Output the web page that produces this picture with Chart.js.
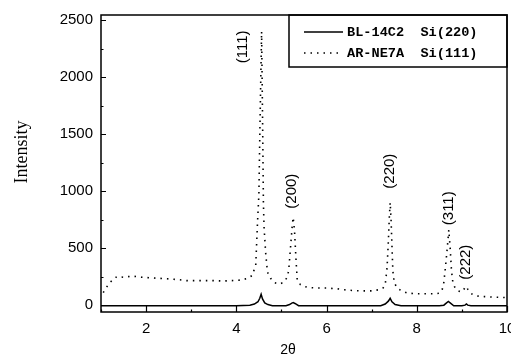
<!DOCTYPE html>
<html>
<head>
<meta charset="UTF-8">
<title>XRD 2θ scan</title>
<style>
  html, body { margin: 0; padding: 0; background: #fff; }
  #wrap { width: 511px; height: 358px; }
</style>
<script src="https://cdn.jsdelivr.net/npm/chart.js"></script>
</head>
<body>
<div id="wrap"><canvas id="xrd" width="511" height="358"></canvas></div>
<script>
// AR-NE7A Si(111) - dotted trace
const arX = [1.05, 1.1, 1.2, 1.35, 1.5, 1.7, 1.9, 2.1, 2.3, 2.5, 2.7, 2.9, 3.1, 3.3, 3.5, 3.7, 3.9, 4.1, 4.25, 4.35,
             4.43, 4.47, 4.5, 4.525, 4.56, 4.585, 4.6, 4.615, 4.65, 4.69, 4.76, 4.83, 4.95, 5.05, 5.12, 5.16, 5.2, 5.24, 5.26, 5.29,
             5.32, 5.35, 5.42, 5.5, 5.6, 5.8, 6.0, 6.2, 6.4, 6.6, 6.8, 7.0, 7.15, 7.25, 7.3, 7.34, 7.37, 7.39, 7.41, 7.43,
             7.45, 7.47, 7.5, 7.55, 7.6, 7.7, 7.8, 8.0, 8.2, 8.4, 8.5, 8.56, 8.6, 8.64, 8.68, 8.71, 8.74, 8.77, 8.8, 8.85,
             8.92, 8.98, 9.03, 9.07, 9.1, 9.13, 9.18, 9.25, 9.35, 9.5, 9.7, 9.9, 10.0];
const arY = [110, 145, 200, 250, 245, 255, 245, 240, 235, 230, 225, 215, 215, 215, 215, 212, 215, 220, 235, 260,
             350, 730, 970, 1600, 2400, 1500, 900, 680, 460, 290, 235, 200, 185, 200, 240, 300, 500, 700, 770, 650,
             420, 220, 180, 165, 155, 150, 150, 145, 135, 128, 125, 125, 135, 150, 180, 320, 560, 760, 900, 750,
             520, 300, 200, 160, 140, 120, 105, 100, 100, 100, 105, 130, 200, 350, 520, 660, 500, 300, 200, 150,
             125, 115, 130, 155, 165, 140, 110, 90, 80, 75, 70, 68, 65];

// BL-14C2 Si(220) - solid trace
const blX = [1.0, 2.0, 3.0, 4.0, 4.3, 4.4, 4.48, 4.52, 4.55, 4.58, 4.63, 4.7, 4.8, 5.1, 5.18, 5.23, 5.26, 5.3, 5.38, 6.0,
             7.2, 7.3, 7.37, 7.41, 7.45, 7.52, 7.65, 8.5, 8.6, 8.66, 8.7, 8.74, 8.82, 9.0, 9.07, 9.1, 9.13, 9.2, 10.0];
const blY = [-5, -5, -5, -5, 0, 10, 30, 60, 95, 55, 20, 5, -5, -5, 5, 18, 22, 15, -5, -5,
             -5, 10, 35, 60, 30, 5, -5, -5, 0, 20, 32, 20, -5, -5, 0, 10, 0, -5, -5];

const seriesNames = ['BL-14C2  Si(220)', 'AR-NE7A  Si(111)'];
const xTicks = [2, 4, 6, 8, 10];
const yTicks = [0, 500, 1000, 1500, 2000, 2500];
const peakNames = ['(111)', '(200)', '(220)', '(311)', '(222)'];

function toPoints(xs, ys) {
  return xs.map((x, i) => ({ x: x, y: ys[i] }));
}

// where the reflection labels sit (data units)
const peakLabelPos = [
  { x: 4.14, y: 2265 },
  { x: 5.22, y: 1000 },
  { x: 7.41, y: 1175 },
  { x: 8.71, y: 850 },
  { x: 9.09, y: 377 }
];

const framePlugin = {
  id: 'frame',
  afterDraw(chart) {
    const ctx = chart.ctx;
    const ca = chart.chartArea;
    const xs = chart.scales.x;
    const ys = chart.scales.y;
    ctx.save();
    ctx.strokeStyle = '#000';
    ctx.fillStyle = '#000';

    // axis box
    ctx.lineWidth = 1.5;
    ctx.strokeRect(ca.left, ca.top, ca.right - ca.left, ca.bottom - ca.top);

    // inward ticks
    ctx.lineWidth = 1.2;
    ctx.beginPath();
    for (let v = 1; v <= 10; v++) {
      const px = Math.round(xs.getPixelForValue(v)) + 0.5;
      const len = v % 2 === 0 ? 6 : 2.5;
      ctx.moveTo(px, ca.bottom);
      ctx.lineTo(px, ca.bottom - len);
    }
    for (let v = 0; v <= 2500; v += 250) {
      const py = Math.round(ys.getPixelForValue(v)) + 0.5;
      const len = v % 500 === 0 ? 5 : 2.5;
      ctx.moveTo(ca.left, py);
      ctx.lineTo(ca.left + len, py);
    }
    ctx.stroke();

    // reflection labels, rotated
    ctx.font = '15px "Liberation Sans"';
    ctx.textAlign = 'center';
    ctx.textBaseline = 'middle';
    peakNames.forEach((name, i) => {
      const px = xs.getPixelForValue(peakLabelPos[i].x);
      const py = ys.getPixelForValue(peakLabelPos[i].y);
      ctx.save();
      ctx.translate(px, py);
      ctx.rotate(-Math.PI / 2);
      ctx.fillText(name, 0, 0);
      ctx.restore();
    });

    // axis titles
    ctx.save();
    ctx.font = '18px "Liberation Serif"';
    ctx.translate(22, 152);
    ctx.rotate(-Math.PI / 2);
    ctx.fillText('Intensity', 0, 0);
    ctx.restore();
    ctx.font = '14px "Liberation Sans"';
    ctx.fillText('2θ', 288, 350);

    // legend box in the upper right corner
    const bw = 218, bh = 52;
    const bx = ca.right - bw, by = ca.top;
    ctx.lineWidth = 1.5;
    ctx.strokeRect(bx, by, bw, bh);
    ctx.font = 'bold 13.6px "Liberation Mono"';
    ctx.textAlign = 'left';
    chart.data.datasets.forEach((ds, i) => {
      const ry = by + 17 + i * 21;
      ctx.save();
      ctx.lineWidth = ds.borderWidth;
      ctx.setLineDash(ds.borderDash || []);
      ctx.beginPath();
      ctx.moveTo(bx + 15, ry);
      ctx.lineTo(bx + 54, ry);
      ctx.stroke();
      ctx.restore();
      ctx.fillText(ds.label, bx + 58, ry + 1);
    });
    ctx.restore();
  }
};

new Chart(document.getElementById('xrd'), {
  type: 'line',
  data: {
    datasets: [
      {
        label: seriesNames[0],
        data: toPoints(blX, blY),
        borderColor: '#000',
        borderWidth: 1.5,
        pointRadius: 0,
        tension: 0
      },
      {
        label: seriesNames[1],
        data: toPoints(arX, arY),
        borderColor: '#000',
        borderWidth: 1.6,
        borderDash: [1.5, 5],
        pointRadius: 0,
        tension: 0
      }
    ]
  },
  options: {
    responsive: false,
    animation: false,
    devicePixelRatio: 1,
    layout: { padding: { top: 15, right: 4, left: 0, bottom: 0 } },
    plugins: { legend: { display: false }, tooltip: { enabled: false } },
    scales: {
      x: {
        type: 'linear',
        min: 1,
        max: 10,
        grid: { display: false, drawTicks: false },
        border: { display: false },
        ticks: { color: '#000', font: { family: 'Liberation Sans', size: 15 }, padding: 8, maxRotation: 0, autoSkip: false,
                 callback: v => String(v) },
        afterBuildTicks(s) { s.ticks = xTicks.map(v => ({ value: v })); },
        afterFit(s) { s.height = 46; s.paddingLeft = 0; s.paddingRight = 0; }
      },
      y: {
        type: 'linear',
        min: -60,
        max: 2545,
        grid: { display: false, drawTicks: false },
        border: { display: false },
        ticks: { color: '#000', font: { family: 'Liberation Sans', size: 15 }, padding: 8,
                 callback: v => String(v) },
        afterBuildTicks(s) { s.ticks = yTicks.map(v => ({ value: v })); },
        afterFit(s) { s.width = 101; s.paddingTop = 0; s.paddingBottom = 0; }
      }
    }
  },
  plugins: [framePlugin]
});
</script>
</body>
</html>
